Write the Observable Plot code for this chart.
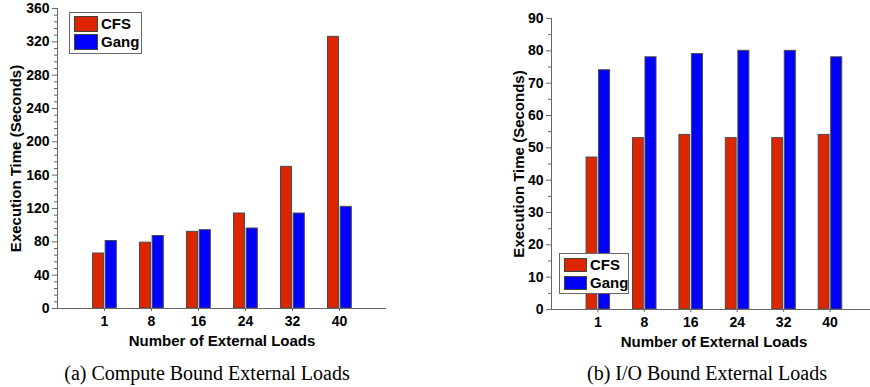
<!DOCTYPE html>
<html><head><meta charset="utf-8">
<script src="https://cdn.jsdelivr.net/npm/d3@7"></script>
<script src="https://cdn.jsdelivr.net/npm/@observablehq/plot@0.6"></script>
<style>
html,body{margin:0;padding:0;background:#fff;overflow:hidden}
#wrap{position:relative;width:870px;height:387px;overflow:hidden}
.panel{position:absolute;top:0}
.panel svg{max-width:none !important}
.legend{position:absolute;border:1px solid #666;background:#fff;font:bold 15px "Liberation Sans",Arial,sans-serif;box-sizing:border-box}
.legend .row{position:absolute;left:4px;display:flex;align-items:center;white-space:nowrap}
.legend .sw{box-sizing:border-box;border:1px solid #444;margin-right:3px}
.caption{position:absolute;font:20px "Liberation Serif","Times New Roman",serif;white-space:nowrap;transform:translateX(-50%)}
</style></head><body><div id="wrap"></div>
<script>
const loads = ["1", "8", "16", "24", "32", "40"];
const series = ["CFS", "Gang"];
const colors = ["#dc2600", "#0000ff"];
const computeCFS = [66, 79, 92, 114, 170, 326];
const computeGang = [81, 87, 94, 96, 114, 122];
const ioCFS = [47, 53, 54, 53, 53, 54];
const ioGang = [74, 78, 79, 80, 80, 78];
const computeTicks = [0, 40, 80, 120, 160, 200, 240, 280, 320, 360];
const ioTicks = [0, 10, 20, 30, 40, 50, 60, 70, 80, 90];
const xTitle = "Number of External Loads";
const yTitle = "Execution Time (Seconds)";
const captions = ["(a) Compute Bound External Loads", "(b) I/O Bound External Loads"];

const wrap = document.getElementById("wrap");
const axisColor = "#666";
const slots = loads.map((_, i) => i + 1);
const barOffsets = {CFS: [-0.245, -0.012], Gang: [0.024, 0.262]};

function panel({cfs, gang, ticks, minorStep, left, width, marginLeft, marginRight, marginTop, marginBottom, yLabelOffset}) {
  const rows = [];
  loads.forEach((load, i) => {
    rows.push({slot: i + 1, load, series: "CFS", value: cfs[i]});
    rows.push({slot: i + 1, load, series: "Gang", value: gang[i]});
  });
  const yMax = ticks[ticks.length - 1];
  const minor = d3.range(0, yMax + 1e-9, minorStep).filter(v => !ticks.includes(v));
  const svg = Plot.plot({
    width, height: 350, marginLeft, marginRight, marginTop, marginBottom,
    style: {fontFamily: '"Liberation Sans", Arial, sans-serif', fontSize: "14px", fontWeight: "bold", color: "#000", background: "transparent", overflow: "visible", maxWidth: "none"},
    x: {type: "linear", domain: [0, 7]},
    y: {domain: [0, yMax]},
    color: {domain: series, range: colors},
    marks: [
      Plot.rectY(rows, {x1: d => d.slot + barOffsets[d.series][0], x2: d => d.slot + barOffsets[d.series][1], y: "value", fill: "series", stroke: "#4a4a4a", strokeWidth: 1}),
      Plot.axisY(minor, {tickSize: 3, tickFormat: () => "", stroke: axisColor, label: null}),
      Plot.axisY(ticks, {tickSize: 5, tickPadding: 3, fontSize: 14, stroke: axisColor, label: null}),
      Plot.axisX(slots, {tickSize: 3, tickPadding: 5, fontSize: 14, tickFormat: s => loads[s - 1], stroke: axisColor, label: null}),
      Plot.text([yTitle], {frameAnchor: "left", rotate: -90, dx: -yLabelOffset, textAnchor: "middle", lineAnchor: "top", fontSize: 15, fontWeight: "bold"}),
      Plot.text([xTitle], {frameAnchor: "bottom", dy: 37, textAnchor: "middle", lineAnchor: "bottom", fontSize: 15, fontWeight: "bold"}),
      Plot.ruleX([0], {y1: 0, y2: yMax, stroke: axisColor}),
      Plot.ruleY([0], {stroke: axisColor})
    ]
  });
  svg.style.maxWidth = "none";
  const div = document.createElement("div");
  div.className = "panel";
  div.style.left = left + "px";
  div.style.width = width + "px";
  div.appendChild(svg);
  wrap.appendChild(div);
}

function legend(x, y, w, h, swW, swH, rowTops) {
  const box = document.createElement("div");
  box.className = "legend";
  Object.assign(box.style, {left: x + "px", top: y + "px", width: w + "px", height: h + "px"});
  series.forEach((s, i) => {
    const row = document.createElement("div");
    row.className = "row";
    row.style.top = rowTops[i] + "px";
    const sw = document.createElement("div");
    sw.className = "sw";
    Object.assign(sw.style, {width: swW + "px", height: swH + "px", background: colors[i]});
    const t = document.createElement("span");
    t.textContent = s;
    row.appendChild(sw);
    row.appendChild(t);
    box.appendChild(row);
  });
  wrap.appendChild(box);
}

function caption(text, cx) {
  const c = document.createElement("div");
  c.className = "caption";
  c.textContent = text;
  Object.assign(c.style, {left: cx + "px", top: "362px"});
  wrap.appendChild(c);
}

panel({cfs: computeCFS, gang: computeGang, ticks: computeTicks, minorStep: 8, left: 0, width: 435, marginLeft: 57, marginRight: 49, marginTop: 8, marginBottom: 42, yLabelOffset: 47});
panel({cfs: ioCFS, gang: ioGang, ticks: ioTicks, minorStep: 5, left: 435, width: 445, marginLeft: 116, marginRight: 4, marginTop: 18, marginBottom: 41, yLabelOffset: 38});
legend(69, 12, 73, 42, 24, 16, [2, 20]);
legend(559, 253, 70, 41, 23, 14, [2, 20]);
caption(captions[0], 207);
caption(captions[1], 707);
</script></body></html>
